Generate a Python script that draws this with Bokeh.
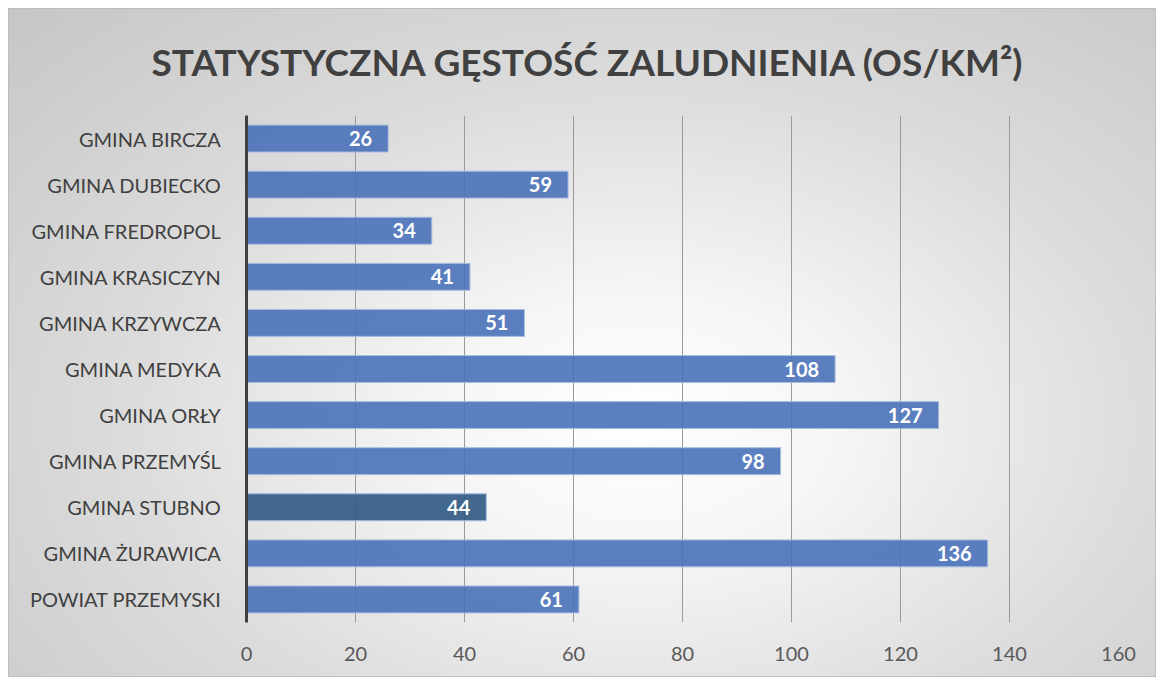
from bokeh.plotting import figure
from bokeh.models import ColumnDataSource, FactorRange, Range1d, FixedTicker, LabelSet
from bokeh.core.properties import value
from bokeh.embed import file_html
from bokeh.resources import INLINE

categories = ["GMINA BIRCZA", "GMINA DUBIECKO", "GMINA FREDROPOL", "GMINA KRASICZYN",
              "GMINA KRZYWCZA", "GMINA MEDYKA", "GMINA ORŁY", "GMINA PRZEMYŚL",
              "GMINA STUBNO", "GMINA ŻURAWICA", "POWIAT PRZEMYSKI"]
values = [26, 59, 34, 41, 51, 108, 127, 98, 44, 136, 61]
colors = ["#4a72b8"] * 8 + ["#2f5a82"] + ["#4a72b8"] * 2
x_ticks = [0, 20, 40, 60, 80, 100, 120, 140, 160]
title_text = "STATYSTYCZNA GĘSTOŚĆ ZALUDNIENIA (OS/KM²)"

FONT = "Lato"

src = ColumnDataSource(dict(cat=categories, val=values, col=colors,
                            lab=[str(v) for v in values]))

p = figure(width=1148, height=669, output_backend="svg", toolbar_location=None,
           y_range=FactorRange(factors=list(reversed(categories)), range_padding=0),
           x_range=Range1d(0, 160),
           min_border_left=237, min_border_right=39, min_border_top=106, min_border_bottom=56)
p.styles = {"background": "radial-gradient(ellipse farthest-corner at 55% 62%, #ffffff 0%, #f6f6f6 22%, #dcdcdc 57%, #c6c6c6 100%)",
            "border": "1px solid #bdbdbd", "box-sizing": "border-box",
            "margin-left": "8px", "margin-top": "8px"}
p.background_fill_color = None
p.border_fill_color = None
p.outline_line_color = None

p.title.text = title_text
p.title.align = "left"
p.title.vertical_align = "top"
p.title.offset = -95
p.title.standoff = 59
p.title.text_font = FONT
p.title.text_font_style = "bold"
p.title.text_font_size = "37px"
p.title.text_color = "#404040"

p.hbar(y="cat", right="val", left=0, height=0.585, source=src, fill_color="col",
       fill_alpha=0.9, line_color="#a9bde3", line_width=1)

labels = LabelSet(x="val", y="cat", text="lab", source=src, x_offset=-16,
                  text_align="right", text_baseline="middle", text_color="white",
                  text_font=value(FONT), text_font_style="bold", text_font_size="20px")
p.add_layout(labels)

p.ygrid.grid_line_color = None
p.xgrid.grid_line_color = "#9a9a9a"
p.xgrid.grid_line_width = 1
p.xgrid.ticker = FixedTicker(ticks=x_ticks)

p.xaxis.ticker = FixedTicker(ticks=x_ticks)
p.xaxis.axis_line_color = None
p.xaxis.major_tick_line_color = None
p.xaxis.minor_tick_line_color = None
p.xaxis.major_label_text_font = FONT
p.xaxis.major_label_text_font_size = "20px"
p.xaxis.major_label_text_color = "#595959"
p.xaxis.major_label_standoff = 18

p.yaxis.axis_line_color = "#404040"
p.yaxis.axis_line_width = 3
p.yaxis.major_tick_line_color = None
p.yaxis.minor_tick_line_color = None
p.yaxis.major_label_text_font = FONT
p.yaxis.major_label_text_font_size = "20px"
p.yaxis.major_label_text_color = "#404040"
p.yaxis.major_label_standoff = 19

open("out.html", "w").write(file_html(p, INLINE))
